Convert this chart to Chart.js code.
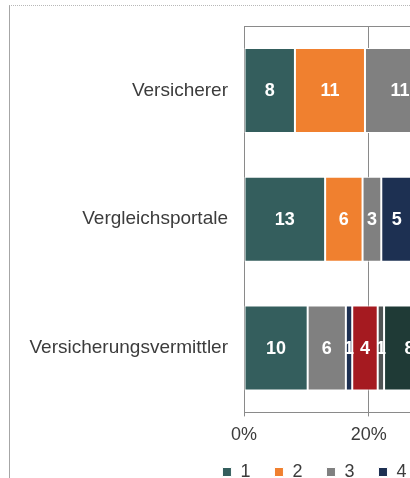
<!DOCTYPE html>
<html lang="de">
<head>
<meta charset="UTF-8">
<title>Vertriebswege</title>
<script src="https://cdn.jsdelivr.net/npm/chart.js"></script>
<style>
  html, body { margin: 0; padding: 0; background: #fff; overflow: hidden; width: 410px; height: 478px; }
  #frame {
    position: absolute; left: 9px; top: 5px;
    width: 1000px; height: 600px;
    border-top: 1px dotted #b8b8b8;
    border-left: 1px solid #a6a6a6;
  }
  #chart { display: block; }
</style>
</head>
<body>
<div id="frame">
  <canvas id="chart" width="889" height="500"></canvas>
</div>
<script>
// categories (top to bottom)
const categories = ['Versicherer', 'Vergleichsportale', 'Versicherungsvermittler'];
// legend entries
const seriesNames = ['1', '2', '3', '4', '5', '6', '7', '8', '9'];
const seriesColors = ['#345e5d', '#f0802f', '#808080', '#1d3052', '#a51a20', '#4f5454', '#1f3a36', '#b3b3b3', '#8fb3b0'];
// answer counts per series (Versicherer, Vergleichsportale, Versicherungsvermittler)
const s1 = [8, 13, 10];
const s2 = [11, 6, 0];
const s3 = [11, 3, 6];
const s4 = [7, 5, 1];
const s5 = [9, 8, 4];
const s6 = [4, 3, 1];
const s7 = [14, 16, 8];
const s8 = [17, 24, 32];
const s9 = [17, 22, 36];
const seriesValues = [s1, s2, s3, s4, s5, s6, s7, s8, s9];
const xTicks = [0, 20, 40, 60, 80, 100];

// 100% stacked: share of each category's total
const totals = categories.map((c, j) => seriesValues.reduce((sum, s) => sum + s[j], 0));

const gridGrey = '#8a8a8a';
const textGrey = '#3c3c3c';
const font = 'Liberation Sans, Arial, sans-serif';

const datasets = seriesNames.map((name, i) => ({
  label: name,
  data: seriesValues[i].map((v, j) => v / totals[j] * 100),
  counts: seriesValues[i],
  backgroundColor: seriesColors[i],
  borderColor: '#ffffff',
  borderWidth: 1,
  borderSkipped: false,
  barPercentage: 0.66,
  categoryPercentage: 1
}));

// white numbers in the middle of each segment
const segmentLabels = {
  id: 'segmentLabels',
  afterDatasetsDraw(chart) {
    const ctx = chart.ctx;
    ctx.save();
    ctx.font = 'bold 18px ' + font;
    ctx.fillStyle = '#ffffff';
    ctx.textAlign = 'center';
    ctx.textBaseline = 'middle';
    chart.data.datasets.forEach((ds, i) => {
      chart.getDatasetMeta(i).data.forEach((bar, j) => {
        const v = ds.counts[j];
        if (!v) return;
        const p = bar.getCenterPoint();
        ctx.fillText(String(v), p.x, p.y + 1);
      });
    });
    ctx.restore();
  }
};

// frame line on top of the plot area
const topLine = {
  id: 'topLine',
  beforeDatasetsDraw(chart) {
    const { ctx, chartArea } = chart;
    ctx.save();
    ctx.strokeStyle = gridGrey;
    ctx.lineWidth = 1;
    ctx.beginPath();
    ctx.moveTo(chartArea.left, Math.round(chartArea.top) + 0.5);
    ctx.lineTo(chartArea.right, Math.round(chartArea.top) + 0.5);
    ctx.stroke();
    ctx.restore();
  }
};

// legend sits closer to the axis labels than its padding allows
const legendNudge = {
  id: 'legendNudge',
  afterLayout(chart) {
    chart.legend.top -= 15;
    chart.legend.bottom -= 15;
  }
};

new Chart(document.getElementById('chart'), {
  type: 'bar',
  data: { labels: categories, datasets: datasets },
  plugins: [segmentLabels, topLine, legendNudge],
  options: {
    indexAxis: 'y',
    responsive: false,
    animation: false,
    devicePixelRatio: 1,
    layout: { padding: { top: 20, right: 20, bottom: 0, left: 0 } },
    scales: {
      x: {
        stacked: true,
        min: 0,
        max: 100,
        afterBuildTicks: axis => { axis.ticks = xTicks.map(v => ({ value: v })); },
        grid: { color: gridGrey, lineWidth: 1, drawTicks: true, tickLength: 4, tickColor: gridGrey },
        border: { display: true, color: gridGrey },
        ticks: {
          padding: 8,
          color: textGrey,
          font: { family: font, size: 18 },
          maxRotation: 0,
          callback: v => v + '%'
        }
      },
      y: {
        stacked: true,
        grid: { display: false, drawTicks: false },
        border: { display: false },
        ticks: {
          padding: 16,
          color: textGrey,
          font: { family: font, size: 19 }
        },
        afterFit: axis => {
          axis.width = 234;
          axis.paddingTop = 0;
          axis.paddingBottom = 0;
        }
      }
    },
    plugins: {
      legend: {
        position: 'bottom',
        labels: {
          boxWidth: 9,
          boxHeight: 9,
          padding: 24,
          color: textGrey,
          font: { family: font, size: 18 }
        }
      },
      tooltip: { enabled: false }
    }
  }
});
</script>
</body>
</html>
